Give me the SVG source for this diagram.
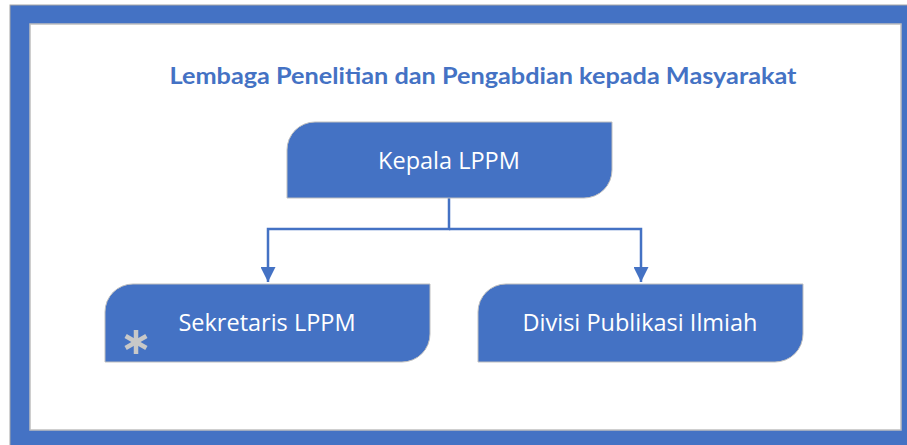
<svg xmlns="http://www.w3.org/2000/svg" width="907" height="445" viewBox="0 0 907 445">
<defs>
<style>
.frame{fill:#4472C4;stroke:#a6a6a6;stroke-width:1}
.inner{fill:#ffffff;stroke:#bfbfbf;stroke-width:1.5}
.box{fill:#4472C4;stroke:#bfbfbf;stroke-width:1}
.lbl{fill:#ffffff;font-family:"Open Sans","Noto Sans",sans-serif;font-size:23.5px;text-anchor:middle}
.title{fill:#4472C4;font-family:Lato,"Open Sans",sans-serif;font-weight:bold;font-size:23px;text-anchor:middle}
.conn{fill:none;stroke:#4472C4;stroke-width:2.5}
</style>
<marker id="arr" viewBox="0 0 10 10" refX="10" refY="5" markerWidth="6" markerHeight="6" markerUnits="strokeWidth" orient="auto">
<path d="M0,0 L10,5 L0,10 Z" fill="#4472C4"/>
</marker>
</defs>
<rect class="frame" x="10" y="5" width="905" height="450"/>
<rect class="inner" x="30" y="24" width="871" height="406"/>
<text class="title" x="483" y="84" textLength="627" lengthAdjust="spacingAndGlyphs">Lembaga Penelitian dan Pengabdian kepada Masyarakat</text>
<g id="connectors">
<path class="conn" d="M449,198 V229 H268 V282" marker-end="url(#arr)"/>
<path class="conn" d="M449,229 H641 V282" marker-end="url(#arr)"/>
</g>
<g id="kepala">
<path class="box" d="M315,122 H612 V170 A28,28 0 0 1 584,198 H287 V150 A28,28 0 0 1 315,122 Z"/>
<text class="lbl" x="449" y="169">Kepala LPPM</text>
</g>
<g id="sekretaris">
<path class="box" d="M133,284 H430 V334 A28,28 0 0 1 402,362 H105 V312 A28,28 0 0 1 133,284 Z"/>
<text class="lbl" x="267" y="331">Sekretaris LPPM</text>
<g stroke="#c8c8c8" stroke-width="4.5" stroke-linecap="butt">
<line x1="136" y1="330" x2="136" y2="354"/>
<line x1="125.6" y1="336" x2="146.4" y2="348"/>
<line x1="125.6" y1="348" x2="146.4" y2="336"/>
</g>
</g>
<g id="divisi">
<path class="box" d="M506,284 H803 V334 A28,28 0 0 1 775,362 H478 V312 A28,28 0 0 1 506,284 Z"/>
<text class="lbl" x="640" y="331">Divisi Publikasi Ilmiah</text>
</g>
</svg>
